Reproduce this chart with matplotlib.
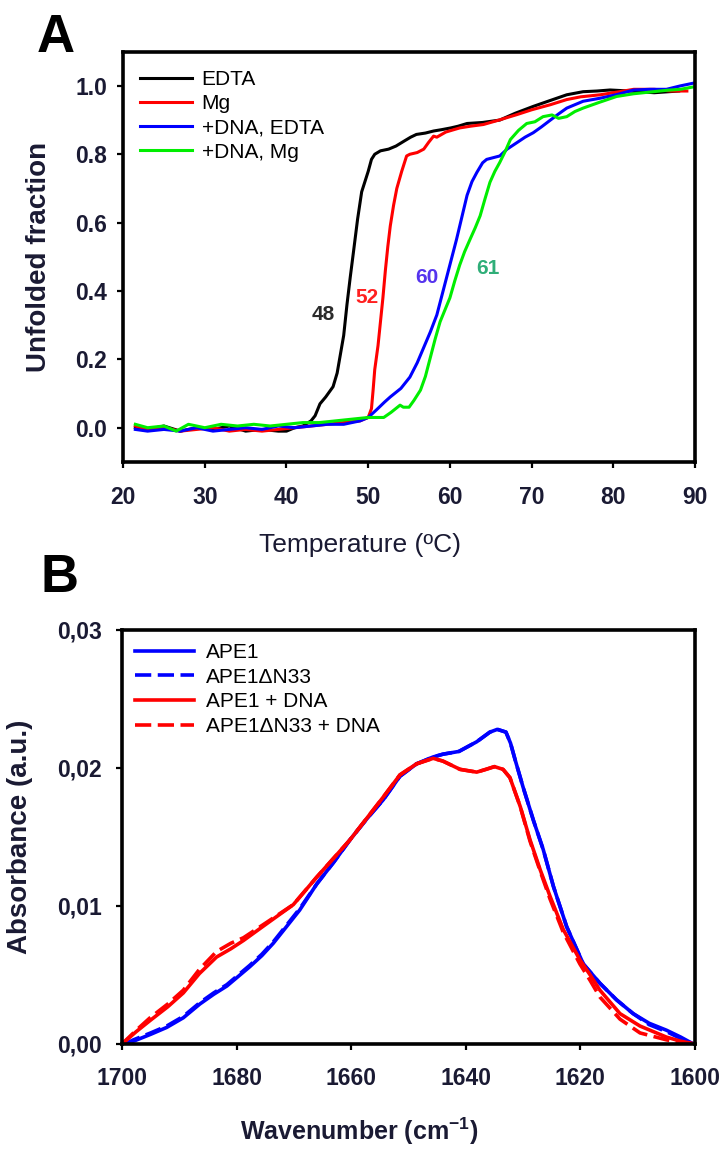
import matplotlib
matplotlib.use("Agg")
import matplotlib.pyplot as plt

plt.rcParams['font.family'] = ['Liberation Sans', 'DejaVu Sans']
plt.rcParams['mathtext.default'] = 'regular'

# ---- Panel A: thermal unfolding ----
edta_t = [21.5, 23, 25, 27, 29, 31, 33, 35, 37, 39, 40, 41, 42, 43, 43.5, 44.1, 44.8, 45.7, 46.2, 46.6,
          47.0, 47.4, 47.8, 48.2, 48.7, 49.2, 49.6, 50.0, 50.4, 50.8, 51.5, 52.5, 53.4, 54.5, 55.2, 55.9,
          57, 58, 59, 60.1, 61, 62.1, 64, 66.1, 68, 70.2, 72, 74.3, 76.3, 78, 79.6, 82, 85, 88]
edta_f = [0.0, -0.005, 0.005, -0.01, 0.0, -0.005, 0.005, -0.01, -0.005, -0.01, -0.01, 0.0, 0.005, 0.02,
          0.035, 0.07, 0.09, 0.12, 0.16, 0.215, 0.27, 0.36, 0.44, 0.515, 0.61, 0.69, 0.72, 0.75, 0.785,
          0.80, 0.81, 0.815, 0.824, 0.84, 0.85, 0.858, 0.862, 0.868, 0.872, 0.877, 0.882, 0.89, 0.893,
          0.90, 0.92, 0.94, 0.955, 0.974, 0.983, 0.985, 0.988, 0.985, 0.98, 0.985]

mg_t = [21.5, 23, 25, 27, 29, 31, 33, 35, 37, 39, 41, 43, 45, 47, 49, 50.0, 50.4, 50.6, 50.8, 51.2,
        51.5, 51.8, 52.1, 52.4, 52.7, 53.1, 53.5, 54.1, 54.7, 55.1, 56.0, 56.8, 57.4, 58.0, 58.4, 59.5,
        61.2, 62.5, 64.1, 66, 68.2, 70, 72.3, 74.3, 76, 78.4, 80.5, 82.5, 85, 87, 89]
mg_f = [0.005, -0.005, 0.0, -0.01, -0.005, 0.0, -0.01, -0.005, -0.01, -0.005, 0.0, 0.005, 0.01, 0.015,
        0.02, 0.03, 0.056, 0.11, 0.17, 0.24, 0.31, 0.38, 0.46, 0.53, 0.59, 0.65, 0.70, 0.75, 0.795, 0.80,
        0.805, 0.815, 0.835, 0.853, 0.85, 0.865, 0.877, 0.882, 0.887, 0.90, 0.916, 0.93, 0.945, 0.96,
        0.968, 0.974, 0.982, 0.99, 0.99, 0.985, 0.985]

dna_edta_t = [21.5, 23, 25, 27, 29, 31, 33, 35, 37, 39, 41, 43, 45, 47, 49, 50, 51.0, 52.0, 52.7, 54.0,
              55.1, 56.0, 56.8, 57.6, 58.4, 59.0, 59.6, 60.2, 60.8, 61.5, 62.1, 62.7, 63.3, 64.0, 64.5,
              65.3, 66.1, 67.0, 68.2, 69.2, 70.2, 71.2, 72.3, 73.3, 74.3, 76.3, 78.4, 80.5, 82.5, 84.5,
              86.5, 88.2, 89.8]
dna_edta_f = [-0.005, -0.01, -0.005, -0.01, 0.0, -0.01, -0.005, 0.0, -0.005, 0.005, 0.0, 0.005, 0.01,
              0.01, 0.02, 0.03, 0.052, 0.075, 0.09, 0.115, 0.148, 0.19, 0.235, 0.28, 0.33, 0.385, 0.44,
              0.495, 0.55, 0.62, 0.68, 0.72, 0.747, 0.775, 0.785, 0.79, 0.795, 0.815, 0.834, 0.85, 0.863,
              0.88, 0.90, 0.918, 0.935, 0.955, 0.964, 0.975, 0.988, 0.99, 0.99, 1.0, 1.008]

dna_mg_t = [21.5, 23, 25, 26.5, 28, 30, 32, 34, 36, 38, 40, 42, 44, 46, 48, 50, 51.0, 51.9, 52.8, 53.9,
            54.3, 55.0, 55.6, 56.4, 57.0, 57.6, 58.2, 58.8, 59.4, 60.0, 60.6, 61.2, 61.8, 62.5, 63.1,
            63.7, 64.3, 64.9, 65.5, 66.1, 66.8, 67.4, 68.4, 69.4, 70.4, 71.4, 72.5, 73.3, 74.3, 75.3,
            76.3, 78.3, 80.4, 82.5, 84.5, 86.5, 88.2, 89.8]
dna_mg_f = [0.01, 0.0, 0.005, -0.01, 0.01, 0.0, 0.01, 0.005, 0.01, 0.005, 0.01, 0.015, 0.015, 0.02,
            0.025, 0.03, 0.03, 0.03, 0.045, 0.066, 0.06, 0.06, 0.08, 0.11, 0.15, 0.205, 0.26, 0.31,
            0.345, 0.38, 0.43, 0.476, 0.515, 0.553, 0.585, 0.62, 0.67, 0.718, 0.75, 0.776, 0.81, 0.843,
            0.87, 0.89, 0.895, 0.91, 0.915, 0.905, 0.91, 0.925, 0.935, 0.952, 0.969, 0.977, 0.982,
            0.987, 0.99, 0.997]

tm_labels = ['48', '52', '60', '61']
tm_pos = [(44.5, 0.33), (49.9, 0.38), (57.2, 0.44), (64.7, 0.465)]
tm_colors = ['#2b2b2b', '#ff2020', '#5533ee', '#2fae78']

# ---- Panel B: FTIR amide I ----
wn_ape1 = [1699.5, 1698, 1695, 1692.2, 1689.3, 1686.4, 1684, 1681.7, 1679.7, 1677.7, 1675.6, 1673.6,
           1671.3, 1669, 1666, 1663, 1660.2, 1657.3, 1654.4, 1651.5, 1648.6, 1645.7, 1644, 1641.2,
           1638.1, 1635.8, 1634.5, 1633, 1632.2, 1631.4, 1630, 1628.2, 1626.5, 1624.7, 1622.4, 1619.5,
           1616.6, 1613.7, 1610.8, 1608, 1605, 1602.5, 1600.3]
abs_ape1 = [0.0, 0.0002, 0.0007, 0.0012, 0.0019, 0.0029, 0.0036, 0.0042, 0.0049, 0.0056, 0.0064, 0.0073,
            0.0085, 0.0097, 0.0116, 0.0132, 0.0148, 0.0163, 0.0177, 0.0194, 0.0203, 0.0208, 0.021,
            0.0212, 0.0219, 0.0226, 0.0228, 0.0226, 0.0218, 0.0206, 0.0186, 0.0162, 0.0141, 0.0114,
            0.0085, 0.0058, 0.0044, 0.0032, 0.0022, 0.0015, 0.001, 0.0005, 0.0]
abs_dn33 = [0.0, 0.0003, 0.0008, 0.0013, 0.002, 0.003, 0.0037, 0.0043, 0.005, 0.0057, 0.0065, 0.0074,
            0.0086, 0.0098, 0.0116, 0.0132, 0.0148, 0.0163, 0.0177, 0.0194, 0.0203, 0.0208, 0.021,
            0.0212, 0.0219, 0.0226, 0.0228, 0.0226, 0.0218, 0.0206, 0.0186, 0.0162, 0.0141, 0.0114,
            0.0085, 0.0058, 0.0044, 0.0032, 0.0022, 0.0014, 0.0009, 0.0004, 0.0]

wn_dna = [1700, 1697.5, 1695.1, 1692, 1689.3, 1686.5, 1683.5, 1681, 1678.8, 1674.8, 1670.1, 1666,
          1660.2, 1654.4, 1651.5, 1648.6, 1645.7, 1644, 1642.5, 1641, 1638.1, 1636.5, 1635, 1633.5,
          1632.3, 1630.5, 1628.8, 1627, 1625.3, 1623, 1620.1, 1618.3, 1616.6, 1613.1, 1609.6, 1605,
          1602.5, 1600]
abs_dna = [0.0, 0.0009, 0.0017, 0.0027, 0.0037, 0.0051, 0.0063, 0.0069, 0.0075, 0.0087, 0.0101, 0.0121,
           0.0148, 0.0179, 0.0195, 0.0203, 0.0207, 0.0205, 0.0202, 0.0199, 0.0197, 0.0199, 0.0201,
           0.0199, 0.0193, 0.0172, 0.0148, 0.0126, 0.0107, 0.0083, 0.0061, 0.005, 0.0039, 0.0022,
           0.0013, 0.0005, 0.0002, 0.0]
abs_dn33_dna = [0.0, 0.001, 0.0019, 0.0029, 0.0039, 0.0054, 0.0067, 0.0073, 0.0077, 0.0088, 0.0101,
                0.0121, 0.0148, 0.0179, 0.0195, 0.0203, 0.0207, 0.0205, 0.0202, 0.0199, 0.0197, 0.0199,
                0.0201, 0.0199, 0.0193, 0.0172, 0.0147, 0.0125, 0.0105, 0.0081, 0.0058, 0.0046, 0.0034,
                0.0018, 0.0008, 0.0003, 0.0001, 0.0]

tick_col = '#1a1a33'

fig = plt.figure(figsize=(7.24, 11.49), dpi=100)
axA = fig.add_axes([0.170, 0.598, 0.790, 0.357])
axB = fig.add_axes([0.1685, 0.0914, 0.7915, 0.3603])


def style(ax):
    for s in ax.spines.values():
        s.set_linewidth(2.6)
        s.set_color('black')
    ax.tick_params(direction='out', length=4.5, width=1.6, labelsize=16.5, labelcolor=tick_col,
                   top=False, right=False)
    for lab in ax.get_xticklabels() + ax.get_yticklabels():
        lab.set_fontweight('bold')


# panel A
axA.plot(edta_t, edta_f, color='black', lw=2.2, label='EDTA')
axA.plot(mg_t, mg_f, color='#ff0000', lw=2.2, label='Mg')
axA.plot(dna_edta_t, dna_edta_f, color='#0000ff', lw=2.2, label='+DNA, EDTA')
axA.plot(dna_mg_t, dna_mg_f, color='#00ee00', lw=2.2, label='+DNA, Mg')
for txt, (x, y), c in zip(tm_labels, tm_pos, tm_colors):
    axA.text(x, y, txt, color=c, fontsize=15, fontweight='bold', ha='center', va='center')
axA.set_xlim(20, 90)
axA.set_ylim(-0.1, 1.1)
axA.set_xticks(range(20, 91, 10))
axA.set_yticks([0.0, 0.2, 0.4, 0.6, 0.8, 1.0])
axA.set_yticklabels(['0.0', '0.2', '0.4', '0.6', '0.8', '1.0'])
style(axA)
axA.tick_params(axis='x', pad=13)
axA.tick_params(axis='y', pad=7)
axA.set_ylabel('Unfolded fraction', fontsize=20, fontweight='bold', color=tick_col)
axA.yaxis.set_label_coords(-0.124, 0.5)
axA.set_xlabel('Temperature (ºC)', fontsize=19, color=tick_col, va='top')
axA.xaxis.set_label_coords(0.415, -0.173)
axA.legend(loc='upper left', bbox_to_anchor=(0.03, 0.955), frameon=False, fontsize=15,
           handlelength=2.5, handletextpad=0.45, labelspacing=0.25, borderpad=0, borderaxespad=0)

# panel B
axB.plot(wn_ape1, abs_ape1, color='#0000ff', lw=2.6, label='APE1')
axB.plot(wn_ape1, abs_dn33, color='#0000ff', lw=2.6, ls=(0, (4.5, 1.8)), label='APE1ΔN33')
axB.plot(wn_dna, abs_dna, color='#ff0000', lw=2.6, label='APE1 + DNA')
axB.plot(wn_dna, abs_dn33_dna, color='#ff0000', lw=2.6, ls=(0, (4.5, 1.8)), label='APE1ΔN33 + DNA')
axB.set_xlim(1700, 1600)
axB.set_ylim(0, 0.03)
axB.set_xticks(range(1700, 1599, -20))
axB.set_yticks([0.0, 0.01, 0.02, 0.03])
axB.set_yticklabels(['0,00', '0,01', '0,02', '0,03'])
style(axB)
axB.tick_params(axis='x', pad=12)
axB.tick_params(axis='y', pad=10)
axB.set_ylabel('Absorbance (a.u.)', fontsize=20, fontweight='bold', color=tick_col)
axB.yaxis.set_label_coords(-0.155, 0.5)
axB.set_xlabel('Wavenumber (cm$^{-1}$)', fontsize=18, fontweight='bold', color=tick_col, va='top')
axB.xaxis.set_label_coords(0.414, -0.172)
axB.legend(loc='upper left', bbox_to_anchor=(0.023, 0.969), frameon=False, fontsize=15,
           handlelength=2.8, handletextpad=0.6, labelspacing=0.28, borderpad=0, borderaxespad=0)

fig.text(0.051, 1 - 52 / 1149, 'A', fontsize=38, fontweight='bold', va='baseline')
fig.text(0.056, 1 - 592 / 1149, 'B', fontsize=38, fontweight='bold', va='baseline')

fig.savefig('out.png', dpi=100, facecolor='white')
